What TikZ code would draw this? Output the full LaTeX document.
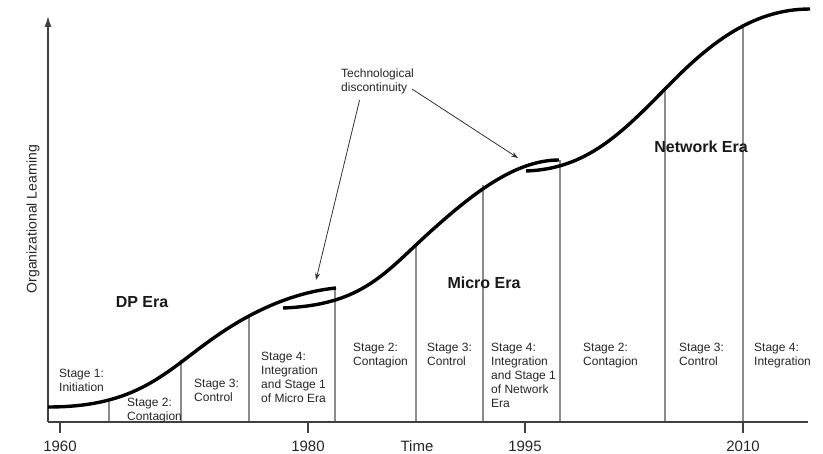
\documentclass[tikz,border=0pt]{standalone}
\usepackage{fontspec}
\setmainfont{Liberation Sans}
\usepackage{tikz}
\usetikzlibrary{arrows.meta}
\usetikzlibrary{positioning}

\tikzset{
  axisline/.style={draw=black!75, line width=1.4pt},
  divider/.style={draw=black!45, line width=1.1pt},
  learncurve/.style={draw=black, line width=3.4pt},
  stagelabel/.style={font=\fontsize{12}{14}\selectfont, text=black!85, align=left, anchor=north west, inner sep=0pt},
  eralabel/.style={font=\fontsize{16}{18}\selectfont\bfseries, text=black!90, inner sep=0pt},
  yearlabel/.style={font=\fontsize{15}{17}\selectfont, text=black!85, inner sep=0pt},
  notearrow/.style={draw=black!80, line width=0.8pt, -{Stealth[length=7pt,width=5pt]}}
}

\begin{document}
\begin{tikzpicture}[x=1pt, y=-1pt]
   \useasboundingbox (0,0) rectangle (823,454);
   % stage dividers, from the time axis up to the curve
   \foreach \x/\t in {109/402, 181/360, 249/315, 335/288, 416/245, 483/185, 560/160, 665/88, 743/24}
      \draw[divider] (\x,422) -- (\x,\t);
   % axes
   \coordinate (origin) at (48,422);
   \coordinate (ytop) at (48,16);
   \coordinate (xend) at (808,422);
   \draw[axisline, -{Latex[length=11pt,width=7pt]}] (origin) -- (ytop);
   \draw[axisline] (origin) -- (xend);
   \foreach \x/\yr in {60/1960, 308/1980, 525/1995, 743/2010} {
      \draw[axisline] (\x,422) -- (\x,433);
      \node[yearlabel] (y\yr) at (\x,446) {\yr};
   }
   \node[yearlabel] (time) at (417,446) {Time};
   \node[yearlabel, font=\fontsize{14}{16}\selectfont, rotate=90] (ylab) at (33,219) {Organizational Learning};
   % the three eras
   \draw[learncurve] (48,407) .. controls (138,407) and (165,372) .. (215,337)
                              .. controls (255,309) and (296,292) .. (336,288);
   \draw[learncurve] (283,308) .. controls (363,305) and (385,272.5) .. (430,232)
                               .. controls (470,196) and (514,160) .. (559,160);
   \draw[learncurve] (526,171) .. controls (586,169) and (621,134) .. (666,88)
                               .. controls (706,47) and (750,9) .. (810,9);
   \node[eralabel] (dp) at (142,302) {DP Era};
   \node[eralabel] (micro) at (484,283) {Micro Era};
   \node[eralabel] (net) at (701,147) {Network Era};
   % stages
   \node[stagelabel] (s1) at (59,368.8) {Stage 1:\\Initiation};
   \node[stagelabel] (s2) at (127,397.8) {Stage 2:\\Contagion};
   \node[stagelabel] (s3) at (194,378.8) {Stage 3:\\Control};
   \node[stagelabel] (s4) at (261,351.8) {Stage 4:\\Integration\\and Stage 1\\of Micro Era};
   \node[stagelabel] (m2) at (353,342.8) {Stage 2:\\Contagion};
   \node[stagelabel] (m3) at (427,342.8) {Stage 3:\\Control};
   \node[stagelabel] (m4) at (491,342.8) {Stage 4:\\Integration\\and Stage 1\\of Network\\Era};
   \node[stagelabel] (n2) at (583,342.8) {Stage 2:\\Contagion};
   \node[stagelabel] (n3) at (679,342.8) {Stage 3:\\Control};
   \node[stagelabel] (n4) at (754,342.8) {Stage 4:\\Integration};
   % discontinuities
   \node[stagelabel] (tech) at (341,68.5) {Technological\\discontinuity};
   \coordinate (gapA) at (316,280);
   \coordinate (gapB) at (518,158);
   \draw[notearrow] ([xshift=-18pt,yshift=-6pt]tech.south) -- (gapA);
   \draw[notearrow] ([xshift=-2pt,yshift=5pt]tech.south east) -- (gapB);
\end{tikzpicture}
\end{document}
